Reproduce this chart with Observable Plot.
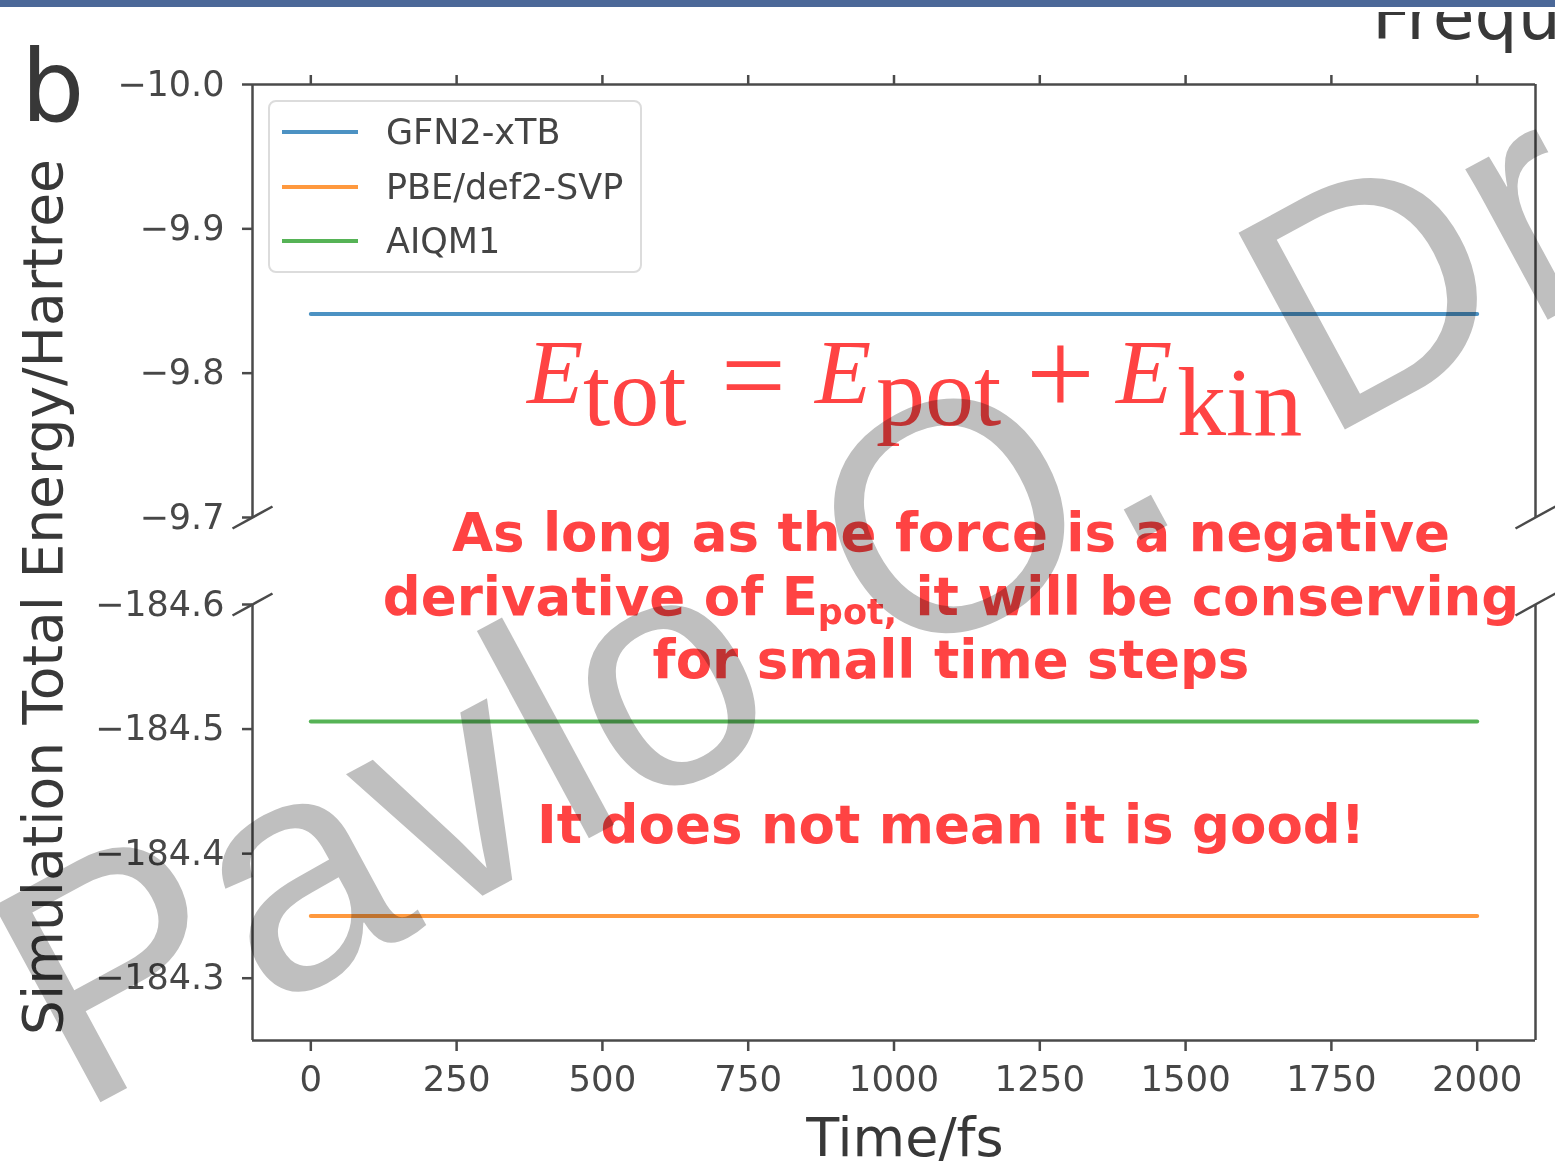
<!DOCTYPE html>
<html>
<head>
<meta charset="utf-8">
<script src="https://cdn.jsdelivr.net/npm/d3@7"></script>
<script src="https://cdn.jsdelivr.net/npm/@observablehq/plot@0.6"></script>
<style>
  html, body { margin: 0; padding: 0; background: #fff; }
  #fig { position: relative; width: 1555px; height: 1168px; overflow: hidden; background: #fff; isolation: isolate; }
  #fig .layer { position: absolute; left: 0; top: 0; }
  #chart { width: 1555px; height: 1168px; filter: blur(0.6px); }
  #chart svg { position: absolute; left: 0; top: 0; }
  #legend { position: absolute; left: 268px; top: 100px; width: 370px; height: 169px;
            border: 2px solid #dcdcdc; border-radius: 8px; background: rgba(255,255,255,0.85); }
  #legend .item { position: absolute; left: 0; height: 40px; }
  #legend .swatch { position: absolute; left: 12px; width: 76px; height: 4px; top: 18px; }
  #legend .name { position: absolute; left: 116px; top: 0; font: 35px "DejaVu Sans", sans-serif; color: #444; line-height: 40px; white-space: nowrap; }
  #wm { mix-blend-mode: multiply; }
  #crop { position: absolute; left: 0; top: 0; width: 1555px; height: 12px; background: #fff; }
  #bar { position: absolute; left: 0; top: 0; width: 1555px; height: 7px; background: #4b6898; }
</style>
</head>
<body>
<div id="fig"></div>
<script>
// Total energy along MD trajectories (broken energy axis)
const methods = ["GFN2-xTB", "PBE/def2-SVP", "AIQM1"];
const colors = ["#1f77b4", "#ff7f0e", "#2ca02c"];
const times = [0, 2000];                 // fs, start and end of trajectory
const gfn2Energy = [-9.841, -9.841];     // Hartree
const pbeEnergy = [-184.350, -184.350];
const aiqm1Energy = [-184.506, -184.506];

const xTicks = [0, 250, 500, 750, 1000, 1250, 1500, 1750, 2000];
const xDomain = [-100, 2100];
const upperTicks = [-10.0, -9.9, -9.8, -9.7];
const upperDomain = [-10.0, -9.7];
const lowerTicks = [-184.6, -184.5, -184.4, -184.3];
const lowerDomain = [-184.6, -184.25];

const energies = {"GFN2-xTB": gfn2Energy, "PBE/def2-SVP": pbeEnergy, "AIQM1": aiqm1Energy};
const rows = methods.flatMap(m => times.map((t, i) => ({method: m, time: t, energy: energies[m][i]})));

const W = 1555, H = 1168;
const spine = "#4a4a4a";
const tickText = "#474747";
const red = "#ff4343";
const fmt = d3.format(".1f");

// short diagonal used to mark the axis break
const breakSymbol = { draw(ctx) { ctx.moveTo(-20, 11); ctx.lineTo(20, -11); } };

function panel({domain, ticks, top, bottom, xAnchor, breakAt}) {
  const lo = Math.min(...domain), hi = Math.max(...domain);
  const data = rows.filter(d => d.energy >= lo && d.energy <= hi);
  const marks = [
    Plot.ruleX(xDomain, {stroke: spine, strokeWidth: 2.5}),
    Plot.ruleY([xAnchor === "top" ? domain[0] : domain[1]], {stroke: spine, strokeWidth: 2.5}),
    Plot.axisY(ticks, {anchor: "left", tickSize: 10, tickPadding: 18, tickFormat: fmt,
      fontSize: 35, stroke: spine, strokeWidth: 2.5, fill: tickText, label: null}),
    xAnchor === "top"
      ? Plot.axisX(xTicks, {anchor: "top", tickSize: 10, stroke: spine, strokeWidth: 2.5, fill: "none", label: null})
      : Plot.axisX(xTicks, {anchor: "bottom", tickSize: 11, tickPadding: 14, tickFormat: d => String(d),
          fontSize: 35.5, stroke: spine, strokeWidth: 2.5, fill: tickText, label: null}),
    Plot.lineY(data, {x: "time", y: "energy", z: "method", stroke: "method", strokeWidth: 4, strokeOpacity: 0.8}),
    Plot.dot(xDomain.map(x => ({x, y: breakAt})), {x: "x", y: "y", symbol: breakSymbol, r: 6,
      fill: "none", stroke: spine, strokeWidth: 2.5})
  ];
  return Plot.plot({
    width: W, height: H,
    marginLeft: 252, marginRight: W - 1535, marginTop: top, marginBottom: H - bottom,
    x: {domain: xDomain},
    y: {domain, reverse: true},
    color: {domain: methods, range: colors},
    style: {background: "transparent", fontFamily: "'DejaVu Sans', sans-serif", overflow: "visible"},
    marks
  });
}

const fig = document.getElementById("fig");
const chart = document.createElement("div");
chart.id = "chart";
chart.className = "layer";
fig.appendChild(chart);

chart.appendChild(panel({domain: upperDomain, ticks: upperTicks, top: 84, bottom: 517, xAnchor: "top", breakAt: upperDomain[1]}));
chart.appendChild(panel({domain: lowerDomain, ticks: lowerTicks, top: 604, bottom: 1040, xAnchor: "bottom", breakAt: lowerDomain[0]}));

// axis titles and panel letter
const labels = d3.select(chart).append("svg").attr("width", W).attr("height", H)
  .attr("font-family", "'DejaVu Sans', sans-serif").attr("fill", "#383838");
labels.append("text").attr("x", 21).attr("y", 121).attr("font-size", 100).text("b");
labels.append("text").attr("x", 1372).attr("y", 39).attr("font-size", 68).text("Frequency");
labels.append("text").attr("transform", "translate(62,597) rotate(-90)").attr("text-anchor", "middle")
  .attr("font-size", 55).text("Simulation Total Energy/Hartree");
labels.append("text").attr("x", 905).attr("y", 1156).attr("text-anchor", "middle")
  .attr("font-size", 54).text("Time/fs");

// legend
const legend = document.createElement("div");
legend.id = "legend";
methods.forEach((m, i) => {
  const item = document.createElement("div");
  item.className = "item";
  item.style.top = (10 + i * 54.5) + "px";
  const sw = document.createElement("div");
  sw.className = "swatch";
  sw.style.background = colors[i];
  sw.style.opacity = 0.8;
  const nm = document.createElement("div");
  nm.className = "name";
  nm.textContent = m;
  item.appendChild(sw);
  item.appendChild(nm);
  legend.appendChild(item);
});
chart.appendChild(legend);

// annotations
const notes = d3.select(fig).append("svg").attr("class", "layer").attr("width", W).attr("height", H);
const eq = notes.append("g").attr("fill", red).attr("font-family", "'Liberation Serif', 'DejaVu Serif', serif");
const eqParts = [
  {t: "E", x: 527, y: 403, s: 92, it: true},
  {t: "tot", x: 583, y: 425, s: 98},
  {t: "=", x: 721, y: 414, s: 115},
  {t: "E", x: 815, y: 403, s: 92, it: true},
  {t: "pot", x: 876, y: 425, s: 98},
  {t: "+", x: 1026, y: 415, s: 122},
  {t: "E", x: 1116, y: 403, s: 92, it: true},
  {t: "kin", x: 1177, y: 435, s: 98}
];
eqParts.forEach(p => eq.append("text").attr("x", p.x).attr("y", p.y).attr("font-size", p.s)
  .attr("font-style", p.it ? "italic" : "normal").text(p.t));

const msg = notes.append("g").attr("fill", red).attr("font-family", "'DejaVu Sans', sans-serif")
  .attr("font-weight", "bold").attr("font-size", 53).attr("text-anchor", "middle")
  .style("white-space", "pre");
msg.append("text").attr("x", 951).attr("y", 551).text("As long as the force is a negative");
const l2 = msg.append("text").attr("x", 951).attr("y", 615);
l2.append("tspan").text("derivative of E");
l2.append("tspan").attr("font-size", 35).attr("dy", 9).text("pot,");
l2.append("tspan").attr("dy", -9).text(" it will be conserving");
msg.append("text").attr("x", 951).attr("y", 678).text("for small time steps");
msg.append("text").attr("x", 951).attr("y", 843).text("It does not mean it is good!");

// author mark, widely spaced words
const wm = d3.select(fig).append("svg").attr("id", "wm").attr("class", "layer").attr("width", W).attr("height", H);
const wmText = wm.append("text").attr("transform", "translate(77,1115) rotate(-28.4)")
  .attr("font-family", "'Liberation Sans', Arial, sans-serif").attr("font-size", 325)
  .attr("fill", "#bfbfbf").style("white-space", "pre");
wmText.append("tspan").text("Pavlo");
wmText.append("tspan").attr("dx", 23).text(" O.");
wmText.append("tspan").attr("dx", 55).text(" Dral");

const crop = document.createElement("div");
crop.id = "crop";
fig.appendChild(crop);
const bar = document.createElement("div");
bar.id = "bar";
fig.appendChild(bar);
</script>
</body>
</html>
